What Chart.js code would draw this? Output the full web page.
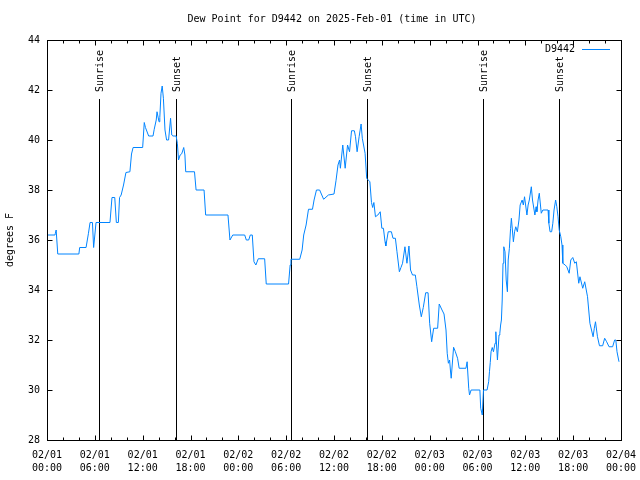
<!DOCTYPE html>
<html>
<head>
<meta charset="utf-8">
<script src="https://cdn.jsdelivr.net/npm/chart.js@4/dist/chart.umd.min.js"></script>
<style>
  html, body { margin: 0; padding: 0; background: #fff; }
  canvas { display: block; }
</style>
</head>
<body>
<canvas id="grafica" width="640" height="480"></canvas>
<script>
//--------Datos
const titulo = "Dew Point for D9442 on 2025-Feb-01 (time in UTC)"
const estacion = "D9442"

// horas desde 02/01 00:00 UTC
const horas = [
    0, 1.0, 1.05, 1.15, 1.35, 4.0, 4.1, 4.9, 5.2, 5.4, 5.7, 5.85, 6.0, 6.15, 7.9, 8.15, 8.5, 8.7, 8.95, 9.1,
    9.3, 9.6, 9.9, 10.4, 10.6, 10.8, 12.0, 12.2, 12.35, 12.75, 13.3, 13.45, 13.7, 13.8, 14.05, 14.15, 14.3, 14.45, 14.6, 14.8,
    15.0, 15.25, 15.5, 15.65, 15.8, 16.2, 16.35, 16.5, 16.7, 16.9, 17.15, 17.3, 17.4, 18.5, 18.7, 19.7, 19.9, 22.7, 22.95, 23.3,
    24.8, 25.0, 25.3, 25.5, 25.75, 25.96, 26.2, 26.5, 27.3, 27.5, 30.3, 30.5, 30.6, 31.7, 32.0, 32.2, 32.5, 32.8, 33.3, 33.5,
    33.8, 34.2, 34.7, 35.3, 36.0, 36.25, 36.5, 36.7, 36.8, 37.1, 37.4, 37.7, 37.95, 38.2, 38.55, 38.7, 38.9, 39.15, 39.4, 39.55,
    39.9, 40.1, 40.3, 40.5, 40.7, 40.85, 41.0, 41.2, 41.5, 41.8, 42.0, 42.2, 42.4, 42.5, 42.8, 43.2, 43.4, 43.7, 43.9, 44.2,
    44.4, 44.6, 44.9, 45.15, 45.4, 45.6, 45.85, 46.2, 46.4, 46.7, 46.95, 47.2, 47.5, 47.8, 48.0, 48.25, 48.5, 49.0, 49.2, 49.55,
    49.8, 50.05, 50.2, 50.35, 50.5, 50.6, 50.7, 51.0, 51.2, 51.5, 51.7, 52.55, 52.7, 52.9, 53.0, 53.2, 54.3, 54.4, 54.6, 54.75,
    55.2, 55.4, 55.5, 55.6, 55.7, 55.85, 56.0, 56.2, 56.3, 56.5, 56.7, 56.8, 56.9, 57.0, 57.1, 57.2, 57.3, 57.45, 57.6, 57.75,
    57.85, 58.0, 58.15, 58.25, 58.5, 58.65, 58.8, 59.0, 59.2, 59.35, 59.6, 59.75, 59.9, 60.2, 60.35, 60.5, 60.75, 60.9, 61.2, 61.35,
    61.45, 61.6, 61.75, 62.0, 62.2, 62.85, 62.95, 63.1, 63.3, 63.45, 63.6, 63.8, 63.95, 64.1, 64.25, 64.45, 64.6, 64.7, 65.0, 65.2,
    65.5, 65.7, 65.95, 66.2, 66.4, 66.7, 66.85, 67.2, 67.45, 67.8, 68.1, 68.5, 68.65, 68.8, 69.05, 69.3, 69.7, 69.95, 70.2, 70.5,
    70.95, 71.2, 71.35, 71.5, 71.75
]

const puntoRocio = [
    36.2, 36.2, 36.27, 36.4, 35.44, 35.44, 35.7, 35.7, 36.27, 36.7, 36.7, 35.7, 36.2, 36.7, 36.7, 37.7, 37.7, 36.7, 36.7, 37.7,
    37.8, 38.2, 38.7, 38.73, 39.44, 39.7, 39.7, 40.7, 40.5, 40.16, 40.16, 40.43, 40.8, 41.13, 40.73, 40.9, 41.87, 42.16, 41.67, 40.4,
    40.0, 40.0, 40.87, 40.2, 40.16, 40.16, 39.87, 39.2, 39.4, 39.45, 39.7, 39.4, 38.73, 38.73, 38.0, 38.0, 37.0, 37.0, 36.0, 36.2,
    36.2, 36.0, 36.0, 36.2, 36.2, 35.13, 35.0, 35.25, 35.25, 34.24, 34.24, 35.0, 35.23, 35.23, 35.6, 36.2, 36.6, 37.23, 37.23, 37.6,
    38.0, 38.0, 37.63, 37.8, 37.84, 38.37, 39.0, 39.2, 38.87, 39.8, 38.87, 39.8, 39.53, 40.37, 40.37, 40.13, 39.53, 40.13, 40.64, 40.07,
    39.47, 38.47, 38.4, 38.33, 37.5, 37.3, 37.5, 36.93, 37.0, 37.13, 36.47, 36.47, 35.93, 35.76, 36.33, 36.33, 36.07, 36.07, 35.53, 34.73,
    34.9, 35.07, 35.73, 35.07, 35.76, 34.8, 34.6, 34.6, 34.13, 33.4, 32.93, 33.3, 33.89, 33.89, 32.67, 31.93, 32.47, 32.47, 33.44, 33.2,
    33.04, 32.4, 31.47, 31.07, 31.2, 30.8, 30.47, 31.71, 31.55, 31.27, 30.87, 30.87, 31.13, 30.07, 29.8, 30.0, 30.0, 29.27, 29.0, 30.0,
    30.0, 30.33, 30.73, 31.1, 31.53, 31.7, 31.53, 31.87, 32.33, 31.2, 32.2, 32.27, 32.6, 32.8, 33.6, 35.07, 35.73, 35.53, 34.4, 33.93,
    35.2, 35.67, 36.47, 36.87, 35.93, 36.33, 36.53, 36.33, 36.8, 37.4, 37.6, 37.4, 37.73, 37.0, 37.4, 37.6, 38.13, 37.6, 37.0, 37.33,
    37.13, 37.6, 37.87, 37.07, 37.2, 37.2, 36.67, 36.33, 36.33, 36.67, 37.2, 37.6, 37.33, 36.93, 36.4, 36.13, 35.8, 35.07, 35.0, 34.93,
    34.67, 35.2, 35.3, 35.07, 35.13, 34.27, 34.53, 34.07, 34.33, 33.73, 32.67, 32.13, 32.47, 32.73, 32.13, 31.77, 31.77, 32.07, 31.93, 31.73,
    31.73, 32.0, 32.0, 31.53, 31.13
]

const horasSunrise = [6.52, 30.6, 54.69]
const horasSunset = [16.18, 40.14, 64.2]

const ejeXMin = 0, ejeXMax = 72, pasoX = 6, pasoXMenor = 2
const ejeYMin = 28, ejeYMax = 44, pasoY = 2

const fuente = "'DejaVu Sans Mono', monospace"
const colorLinea = "rgb(0, 132, 255)"

//--------Funciones
function etiquetaX(valor) {//Devuelve fecha y hora en dos lineas
    const dia = 1 + Math.floor(valor / 24)
    const hora = valor % 24
    return ["02/0" + dia, String(hora).padStart(2, "0") + ":00"]
}

function px(v) {
    return Math.round(v) + 0.5
}

// marco, ticks hacia dentro, titulo, leyenda y lineas de sol
const pluginGnuplot = {
    id: "gnuplot",
    beforeDatasetsDraw(chart) {
        const ctx = chart.ctx
        const area = chart.chartArea
        const x = chart.scales.x
        const y = chart.scales.y
        const yArriba = y.getPixelForValue(41.64)

        ctx.save()
        ctx.strokeStyle = "#000"
        ctx.lineWidth = 1
        ctx.fillStyle = "#000"
        ctx.font = "10px " + fuente
        ctx.textBaseline = "middle"
        ctx.textAlign = "left"

        const dibujarSol = (hora, texto) => {
            const xp = px(x.getPixelForValue(hora))
            ctx.beginPath()
            ctx.moveTo(xp, Math.round(yArriba))
            ctx.lineTo(xp, area.bottom)
            ctx.stroke()

            ctx.save()
            ctx.translate(xp + 1, Math.round(yArriba) - 7)
            ctx.rotate(-Math.PI / 2)
            ctx.fillText(texto, 0, 0)
            ctx.restore()
        }
        horasSunrise.forEach(h => dibujarSol(h, "Sunrise"))
        horasSunset.forEach(h => dibujarSol(h, "Sunset"))
        ctx.restore()
    },
    afterDatasetsDraw(chart) {
        const ctx = chart.ctx
        const area = chart.chartArea
        const x = chart.scales.x
        const y = chart.scales.y
        const izq = Math.round(area.left) + 0.5
        const der = Math.round(area.right) + 0.5
        const arr = Math.round(area.top) + 0.5
        const abj = Math.round(area.bottom) + 0.5

        ctx.save()
        ctx.strokeStyle = "#000"
        ctx.lineWidth = 1

        ctx.strokeRect(izq, arr, der - izq, abj - arr)

        ctx.beginPath()
        for (let h = ejeXMin; h <= ejeXMax; h += pasoXMenor) {
            const largo = (h % pasoX === 0) ? 5 : 3
            const xp = px(x.getPixelForValue(h))
            ctx.moveTo(xp, abj)
            ctx.lineTo(xp, abj - largo)
            ctx.moveTo(xp, arr)
            ctx.lineTo(xp, arr + largo)
        }
        for (let v = ejeYMin; v <= ejeYMax; v += pasoY) {
            const yp = px(y.getPixelForValue(v))
            ctx.moveTo(izq, yp)
            ctx.lineTo(izq + 5, yp)
            ctx.moveTo(der, yp)
            ctx.lineTo(der - 5, yp)
        }
        ctx.stroke()

        ctx.fillStyle = "#000"
        ctx.font = "10px " + fuente
        ctx.textBaseline = "middle"

        // titulo
        ctx.textAlign = "center"
        ctx.fillText(titulo, 332, 19)

        // titulo eje y
        ctx.save()
        ctx.translate(10, 240)
        ctx.rotate(-Math.PI / 2)
        ctx.fillText("degrees F", 0, 0)
        ctx.restore()

        // leyenda
        ctx.textAlign = "right"
        ctx.fillText(estacion, 575, 49)
        ctx.strokeStyle = colorLinea
        ctx.beginPath()
        ctx.moveTo(582, 49.5)
        ctx.lineTo(610, 49.5)
        ctx.stroke()

        ctx.restore()
    }
}

//Grafica
const canvaGrafica = document.getElementById("grafica")

const graficaChart = new Chart(canvaGrafica, {
    type: "line",
    data: {
        datasets: [{
            label: estacion,
            data: horas.map((h, i) => ({ x: h, y: puntoRocio[i] })),
            borderColor: colorLinea,
            borderWidth: 1,
            pointRadius: 0,
            tension: 0,
            fill: false
        }]
    },
    options: {
        responsive: false,
        animation: false,
        events: [],
        layout: {
            padding: { top: 40, right: 19, left: 0, bottom: 0 }
        },
        scales: {
            x: {
                type: "linear",
                min: ejeXMin,
                max: ejeXMax,
                afterFit: escala => {
                    escala.height = 40
                    escala.paddingLeft = 0
                    escala.paddingRight = 0
                },
                grid: { display: false, drawTicks: false },
                border: { display: false },
                ticks: {
                    stepSize: pasoX,
                    autoSkip: false,
                    maxRotation: 0,
                    padding: 9,
                    color: "#000",
                    font: { family: fuente, size: 10, lineHeight: 1.3 },
                    callback: valor => etiquetaX(valor)
                }
            },
            y: {
                min: ejeYMin,
                max: ejeYMax,
                afterFit: escala => {
                    escala.width = 47
                    escala.paddingTop = 0
                    escala.paddingBottom = 0
                },
                grid: { display: false, drawTicks: false },
                border: { display: false },
                ticks: {
                    stepSize: pasoY,
                    padding: 7,
                    color: "#000",
                    font: { family: fuente, size: 10 }
                }
            }
        },
        plugins: {
            legend: { display: false },
            tooltip: { enabled: false }
        }
    },
    plugins: [pluginGnuplot]
})
</script>
</body>
</html>
